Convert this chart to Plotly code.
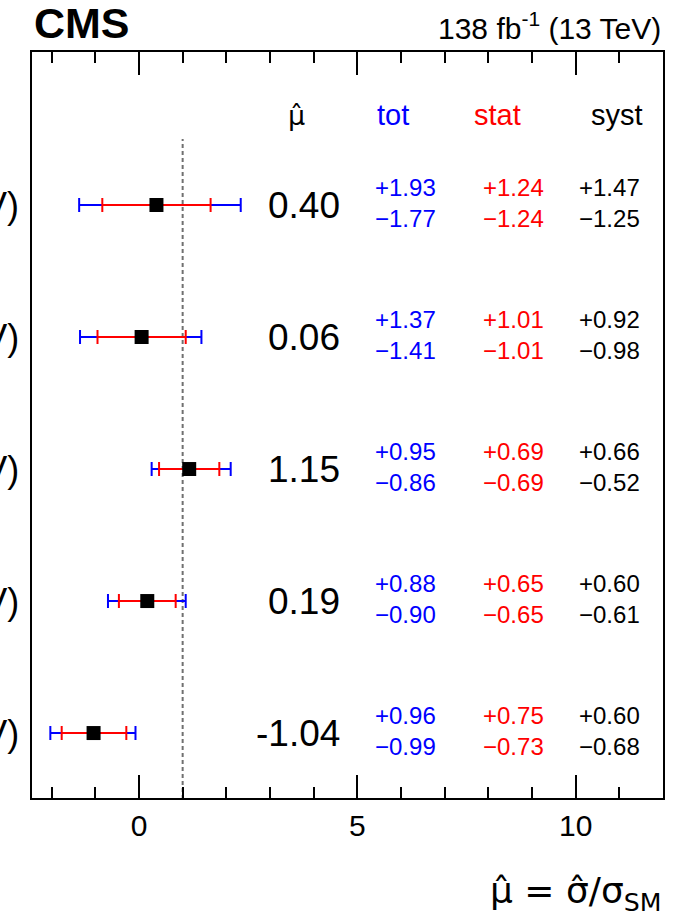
import plotly.graph_objects as go

# ---- data ----
row_labels = ["(< 300 GeV)", "(300-500 GeV)", "(500-700 GeV)", "(700-1000 GeV)", "(> 1000 GeV)"]
row_pos = [5, 4, 3, 2, 1]
mu = [0.40, 0.06, 1.15, 0.19, -1.04]
mu_text = ["0.40", "0.06", "1.15", "0.19", "-1.04"]
tot_up = [1.93, 1.37, 0.95, 0.88, 0.96]
tot_dn = [1.77, 1.41, 0.86, 0.90, 0.99]
stat_up = [1.24, 1.01, 0.69, 0.65, 0.75]
stat_dn = [1.24, 1.01, 0.69, 0.65, 0.73]
syst_up = [1.47, 0.92, 0.66, 0.60, 0.60]
syst_dn = [1.25, 0.98, 0.52, 0.61, 0.68]
sm_value = 1.0

FONT = "Liberation Sans, Arial, Helvetica, sans-serif"
HATFONT = "DejaVu Sans, Liberation Sans, sans-serif"
BLUE = "rgb(0,0,255)"
RED = "rgb(255,0,0)"

fig = go.Figure()

# SM reference line
fig.add_trace(go.Scatter(x=[sm_value, sm_value], y=[0.5, 5.5], mode="lines",
                         line=dict(color="#707070", width=2, dash="4px,3px"),
                         showlegend=False, hoverinfo="skip"))

# total uncertainty
fig.add_trace(go.Scatter(x=mu, y=row_pos, mode="markers",
                         marker=dict(size=1, color="rgba(0,0,0,0)"),
                         error_x=dict(type="data", symmetric=False, array=tot_up, arrayminus=tot_dn,
                                      color=BLUE, thickness=2, width=7),
                         showlegend=False, hoverinfo="skip"))
# stat uncertainty
fig.add_trace(go.Scatter(x=mu, y=row_pos, mode="markers",
                         marker=dict(size=1, color="rgba(0,0,0,0)"),
                         error_x=dict(type="data", symmetric=False, array=stat_up, arrayminus=stat_dn,
                                      color=RED, thickness=2, width=7),
                         showlegend=False, hoverinfo="skip"))
# central values
fig.add_trace(go.Scatter(x=mu, y=row_pos, mode="markers",
                         marker=dict(symbol="square", size=14, color="black"),
                         showlegend=False))

ann = []
# header
hdr_y = 5.68
ann.append(dict(x=3.6, y=hdr_y, text="μ̂", font=dict(size=27, color="black", family=HATFONT)))
ann.append(dict(x=5.82, y=hdr_y, text="tot", font=dict(size=29, color=BLUE)))
ann.append(dict(x=8.2, y=hdr_y, text="stat", font=dict(size=29, color=RED)))
ann.append(dict(x=10.95, y=hdr_y, text="syst", font=dict(size=29, color="black")))

for i in range(len(mu)):
    yv = row_pos[i]
    ann.append(dict(x=4.65, y=yv, text=mu_text[i], xanchor="right",
                    font=dict(size=37, color="black")))
    ann.append(dict(x=6.1, y=yv + 0.13, text=f"+{tot_up[i]:.2f}", font=dict(size=24, color=BLUE)))
    ann.append(dict(x=6.1, y=yv - 0.1, text=f"−{tot_dn[i]:.2f}", font=dict(size=24, color=BLUE)))
    ann.append(dict(x=8.58, y=yv + 0.13, text=f"+{stat_up[i]:.2f}", font=dict(size=24, color=RED)))
    ann.append(dict(x=8.58, y=yv - 0.1, text=f"−{stat_dn[i]:.2f}", font=dict(size=24, color=RED)))
    ann.append(dict(x=10.78, y=yv + 0.13, text=f"+{syst_up[i]:.2f}", font=dict(size=24, color="black")))
    ann.append(dict(x=10.78, y=yv - 0.1, text=f"−{syst_dn[i]:.2f}", font=dict(size=24, color="black")))
    # row labels (mostly outside the visible page on the left, as in the reference)
    ann.append(dict(xref="paper", x=-0.018, y=yv, text=row_labels[i], xanchor="right",
                    font=dict(size=36, color="black")))

for a in ann:
    a.setdefault("xref", "x")
    a.setdefault("yref", "y")
    a.setdefault("xanchor", "center")
    a["yanchor"] = "middle"
    a["showarrow"] = False
    a["font"].setdefault("family", FONT)

# CMS label and lumi
ann.append(dict(xref="paper", yref="paper", x=0.0, y=1.0, yshift=3, xanchor="left", yanchor="bottom",
                text="<b>CMS</b>", showarrow=False, font=dict(size=43, family=FONT, color="black")))
ann.append(dict(xref="paper", yref="paper", x=1.0, y=1.0, yshift=5, xanchor="right", yanchor="bottom",
                text="138 fb<sup>-1</sup> (13 TeV)", showarrow=False,
                font=dict(size=30, family=FONT, color="black")))
# x-axis title
ann.append(dict(xref="paper", yref="paper", x=1.0, y=0, yshift=-70, xanchor="right", yanchor="top",
                text="μ̂ = σ̂/σ<sub>SM</sub>", showarrow=False,
                font=dict(size=36, family=HATFONT, color="black")))

fig.update_layout(
    width=687, height=920,
    margin=dict(l=32, r=24, t=52, b=122),
    paper_bgcolor="white", plot_bgcolor="white",
    annotations=ann,
    font=dict(family=FONT, color="black"),
)
fig.update_xaxes(range=[-2.45, 12.0], showgrid=False, zeroline=False,
                 showline=True, linecolor="black", linewidth=2, mirror="allticks",
                 ticks="inside", ticklen=23, tickwidth=1.5, tickcolor="black",
                 tick0=0, dtick=5, tickfont=dict(size=30, family=FONT, color="black"),
                 minor=dict(dtick=1, tick0=0, ticks="inside", ticklen=11, tickwidth=1.5, tickcolor="black"))
fig.update_yaxes(range=[0.508, 6.159], showgrid=False, zeroline=False,
                 showline=True, linecolor="black", linewidth=2, mirror=True,
                 ticks="", showticklabels=False)

fig.write_html("out.html")
